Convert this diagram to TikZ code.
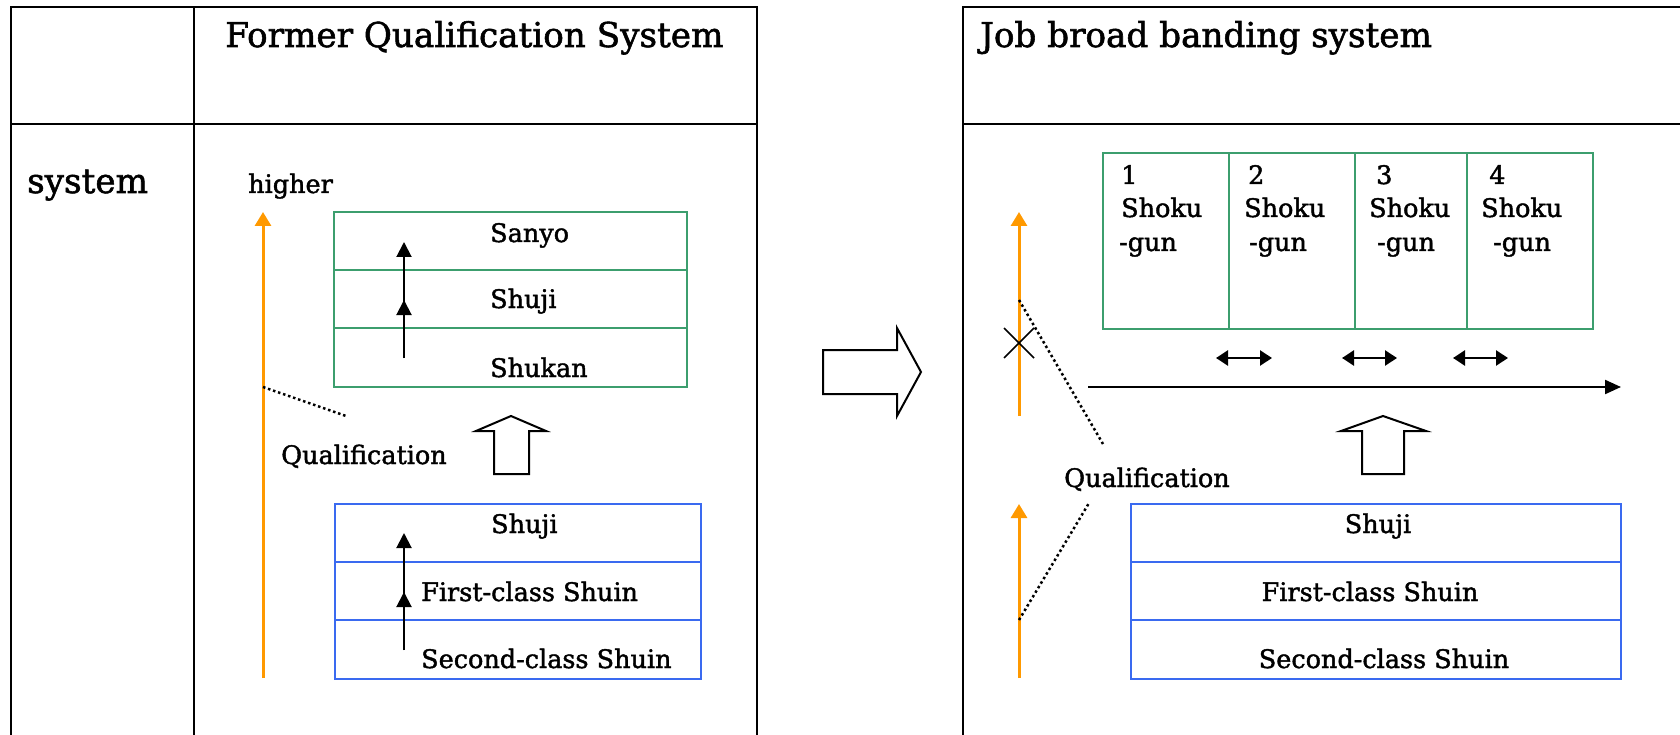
\documentclass[tikz,border=0pt]{standalone}
\usepackage{fontspec}
\setmainfont{DejaVu Serif}[RawFeature={embolden=1.6}]
\usetikzlibrary{arrows.meta}
\definecolor{qorange}{RGB}{255,153,0}
\definecolor{qgreen}{RGB}{60,158,110}
\definecolor{qblue}{RGB}{58,106,240}
\begin{document}
\begin{tikzpicture}[x=1pt,y=-1pt,
  tbl/.style={line width=2.2pt, black},
  gbox/.style={draw=qgreen, line width=2pt},
  bbox/.style={draw=qblue, line width=2.4pt},
  txt/.style={inner sep=0pt, font=\fontsize{25.5}{30}\selectfont},
  bigtxt/.style={inner sep=0pt, font=\fontsize{34.2}{40}\selectfont},
  oarrow/.style={draw=qorange, line width=3pt, -{Triangle[width=16pt,length=14pt]}},
  barrow/.style={draw=black, line width=2pt, -{Triangle[width=15pt,length=15pt]}},
  darrow/.style={draw=black, line width=2.5pt, {Triangle[width=15pt,length=12pt]}-{Triangle[width=15pt,length=12pt]}},
  dots/.style={draw=black, line width=2.5pt, dash pattern=on 2.5pt off 2.8pt},
  blockarrow/.style={draw=black, line width=2pt, fill=white, line join=miter}
]
\useasboundingbox (0,0) rectangle (1680,735);

% ---------- left table ----------
\draw[tbl] (11,745) -- (11,7) -- (757,7) -- (757,745);
\draw[tbl] (194,7) -- (194,745);
\draw[tbl] (11,124) -- (757,124);

% ---------- right table ----------
\draw[tbl] (963,745) -- (963,7) -- (1690,7);
\draw[tbl] (963,124) -- (1690,124);

% ---------- headers ----------
\node[bigtxt, anchor=base west] (hleft) at (225,47) {Former Qualification System};
\node[bigtxt, anchor=base west] (hright) at (980,47) {Job broad banding system};
\node[bigtxt, anchor=base west] (sys) at (27,193) {system};

% ---------- left panel ----------
\node[txt, anchor=base west] (higher) at (248,193) {higher};
\coordinate (oLbot) at (263,678);
\coordinate (oLtop) at (263,212);
\draw[oarrow] (oLbot) -- (oLtop);

% green box
\draw[gbox] (334,212) rectangle (687,387);
\draw[gbox] (334,270) -- (687,270);
\draw[gbox] (334,328) -- (687,328);
\node[txt, anchor=base west] (sanyo) at (490,242) {Sanyo};
\node[txt, anchor=base west] (shujiA) at (490,308) {Shuji};
\node[txt, anchor=base west] (shukan) at (490,377) {Shukan};
\coordinate (gA1) at (404,358);
\coordinate (gA2) at (404,300);
\coordinate (gA3) at (404,242);
\draw[barrow] (gA1) -- (gA3);
\draw[barrow] (gA1) -- (gA2);

% dotted qualification pointer
\coordinate (dL1) at (263,387);
\coordinate (dL2) at (346,416);
\draw[dots] (dL1) -- (dL2);
\node[txt, anchor=base west] (qualL) at (281,464) {Qualification};

% block up arrow left
\draw[blockarrow] (511,416) -- (546,431) -- (529,431) -- (529,474) -- (494,474) -- (494,431) -- (476,431) -- cycle;

% blue box left
\draw[bbox] (335,504) rectangle (701,679);
\draw[bbox] (335,562) -- (701,562);
\draw[bbox] (335,620) -- (701,620);
\node[txt, anchor=base west] (shujiB) at (491,533) {Shuji};
\node[txt, anchor=base west] (first1) at (421,601) {First-class Shuin};
\node[txt, anchor=base west] (second1) at (421,668) {Second-class Shuin};
\coordinate (bA1) at (404,650);
\coordinate (bA2) at (404,592);
\coordinate (bA3) at (404,533);
\draw[barrow] (bA1) -- (bA3);
\draw[barrow] (bA1) -- (bA2);

% ---------- big right arrow ----------
\draw[blockarrow] (823,350) -- (897,350) -- (897,328) -- (921,372) -- (897,416) -- (897,394) -- (823,394) -- cycle;

% ---------- right panel ----------
\coordinate (oR1bot) at (1019,416);
\coordinate (oR1top) at (1019,212);
\draw[oarrow] (oR1bot) -- (oR1top);
\coordinate (oR2bot) at (1019,678);
\coordinate (oR2top) at (1019,504);
\draw[oarrow] (oR2bot) -- (oR2top);

% X mark
\coordinate (xc) at (1019,343);
\draw[line width=1.6pt] ([shift={(-15,-15)}]xc) -- ([shift={(15,15)}]xc);
\draw[line width=1.6pt] ([shift={(-15,15)}]xc) -- ([shift={(15,-15)}]xc);

% dotted lines
\coordinate (dR1) at (1019,300);
\coordinate (dR2) at (1103,444);
\draw[dots] (dR1) -- (dR2);
\coordinate (dR3) at (1019,620);
\coordinate (dR4) at (1089,503);
\draw[dots] (dR3) -- (dR4);
\node[txt, anchor=base west] (qualR) at (1064,487) {Qualification};

% green 4-column box
\draw[gbox] (1103,153) rectangle (1593,329);
\draw[gbox] (1229,153) -- (1229,329);
\draw[gbox] (1355,153) -- (1355,329);
\draw[gbox] (1467,153) -- (1467,329);
\node[txt, anchor=base west] (n1) at (1121,184) {1};
\node[txt, anchor=base west] (s1) at (1121,217) {Shoku};
\node[txt, anchor=base west] (g1) at (1119,251) {-gun};
\node[txt, anchor=base west] (n2) at (1248,184) {2};
\node[txt, anchor=base west] (s2) at (1244,217) {Shoku};
\node[txt, anchor=base west] (g2) at (1249,251) {-gun};
\node[txt, anchor=base west] (n3) at (1376,184) {3};
\node[txt, anchor=base west] (s3) at (1369,217) {Shoku};
\node[txt, anchor=base west] (g3) at (1377,251) {-gun};
\node[txt, anchor=base west] (n4) at (1489,184) {4};
\node[txt, anchor=base west] (s4) at (1481,217) {Shoku};
\node[txt, anchor=base west] (g4) at (1493,251) {-gun};

% double arrows
\coordinate (da1) at (1216,358); \coordinate (db1) at (1272,358);
\coordinate (da2) at (1342,358); \coordinate (db2) at (1397,358);
\coordinate (da3) at (1453,358); \coordinate (db3) at (1508,358);
\draw[darrow] (da1) -- (db1);
\draw[darrow] (da2) -- (db2);
\draw[darrow] (da3) -- (db3);

% long horizontal arrow
\coordinate (hA) at (1088,387);
\coordinate (hB) at (1621,387);
\draw[line width=2.2pt, -{Triangle[width=14pt,length=16pt]}] (hA) -- (hB);

% block up arrow right
\draw[blockarrow] (1383,416) -- (1426,431) -- (1404,431) -- (1404,474) -- (1362,474) -- (1362,431) -- (1341,431) -- cycle;

% blue box right
\draw[bbox] (1131,504) rectangle (1621,679);
\draw[bbox] (1131,562) -- (1621,562);
\draw[bbox] (1131,620) -- (1621,620);
\node[txt, anchor=base] (shujiR) at (1378,533) {Shuji};
\node[txt, anchor=base] (firstR) at (1370,601) {First-class Shuin};
\node[txt, anchor=base] (secondR) at (1384,668) {Second-class Shuin};
\end{tikzpicture}
\end{document}
